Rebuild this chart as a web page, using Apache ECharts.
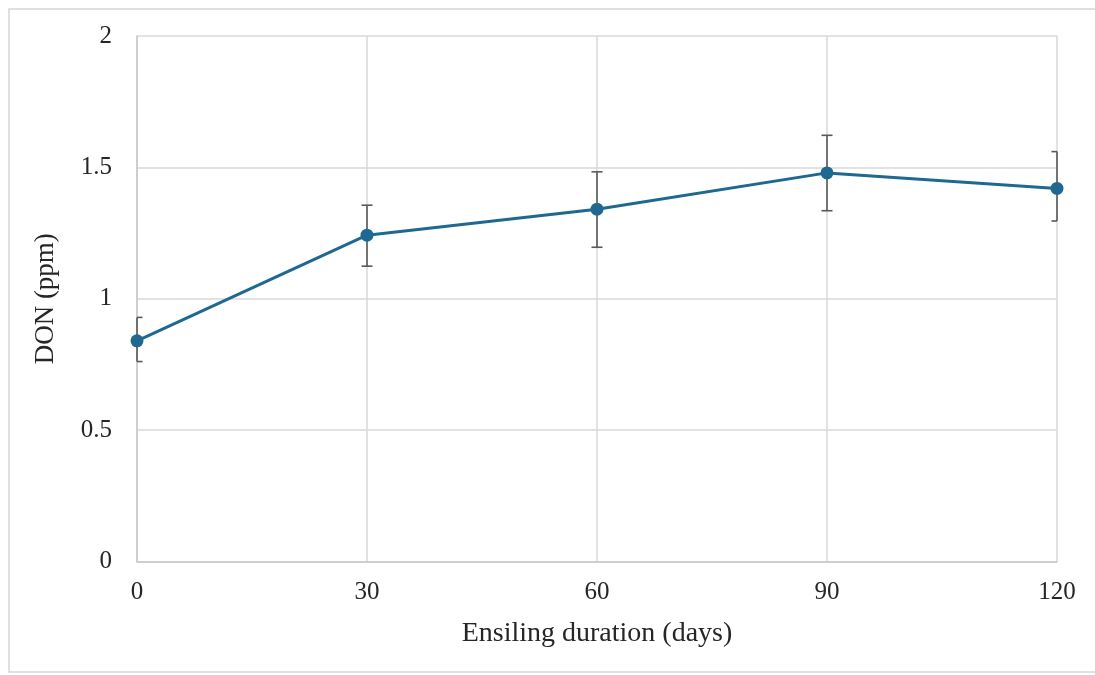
<!DOCTYPE html>
<html>
<head>
<meta charset="utf-8">
<script src="https://cdn.jsdelivr.net/npm/echarts@6/dist/echarts.min.js"></script>
<style>html,body{margin:0;padding:0;background:#fff;}#c{width:1095px;height:675px;}</style>
</head>
<body>
<div id="c"></div>
<script>
const days = [0, 30, 60, 90, 120];
const donMean = [0.84, 1.242, 1.341, 1.479, 1.42];
const donLow = [0.761, 1.124, 1.196, 1.335, 1.296];
const donHigh = [0.929, 1.356, 1.483, 1.622, 1.560];
const xTicks = [0, 30, 60, 90, 120];
const yTicks = [0, 0.5, 1, 1.5, 2];

const font = 'Liberation Serif';
const lineData = days.map((d, i) => [d, donMean[i]]);
const errData = days.map((d, i) => [d, donLow[i], donHigh[i]]);

const chart = echarts.init(document.getElementById('c'), null, {renderer: 'canvas'});
chart.setOption({
  animation: false,
  backgroundColor: '#fff',
  graphic: [{
    type: 'rect', silent: true, z: -10,
    shape: {x: 9, y: 9, width: 1100, height: 663},
    style: {fill: 'none', stroke: '#d6d6d6', lineWidth: 1.5}
  }],
  grid: {left: 137, right: 38, top: 36, bottom: 113.5, containLabel: false},
  xAxis: {
    type: 'value', min: xTicks[0], max: xTicks[xTicks.length - 1], interval: 30,
    name: 'Ensiling duration (days)', nameLocation: 'middle', nameGap: 58,
    nameTextStyle: {fontFamily: font, fontSize: 28, color: '#262626'},
    axisLine: {show: true, lineStyle: {color: '#c8c8c8', width: 1.5}},
    axisTick: {show: false},
    axisLabel: {fontFamily: font, fontSize: 25, color: '#262626', margin: 18},
    splitLine: {show: true, lineStyle: {color: '#d9d9d9', width: 1.5}}
  },
  yAxis: {
    type: 'value', min: yTicks[0], max: yTicks[yTicks.length - 1], interval: 0.5,
    name: 'DON (ppm)', nameLocation: 'middle', nameGap: 78,
    nameTextStyle: {fontFamily: font, fontSize: 27, color: '#262626'},
    axisLine: {show: true, lineStyle: {color: '#c8c8c8', width: 1.5}},
    axisTick: {show: false},
    axisLabel: {fontFamily: font, fontSize: 25, color: '#262626', margin: 25},
    splitLine: {show: true, lineStyle: {color: '#d9d9d9', width: 1.5}}
  },
  series: [
    {
      type: 'custom', z: 3,
      data: errData,
      renderItem: function (params, api) {
        const x = api.value(0);
        const lo = api.coord([x, api.value(1)]);
        const hi = api.coord([x, api.value(2)]);
        const cs = params.coordSys;
        const hw = 5.5;
        const l = Math.max(lo[0] - hw, cs.x);
        const r = Math.min(lo[0] + hw, cs.x + cs.width);
        const st = {stroke: '#595959', lineWidth: 1.6, fill: 'none'};
        return {type: 'group', children: [
          {type: 'line', shape: {x1: lo[0], y1: lo[1], x2: hi[0], y2: hi[1]}, style: st},
          {type: 'line', shape: {x1: l, y1: lo[1], x2: r, y2: lo[1]}, style: st},
          {type: 'line', shape: {x1: l, y1: hi[1], x2: r, y2: hi[1]}, style: st}
        ]};
      }
    },
    {
      type: 'line', z: 4,
      data: lineData,
      symbol: 'circle', symbolSize: 13,
      lineStyle: {color: '#1f6891', width: 3},
      itemStyle: {color: '#1f6891'}
    }
  ]
});
</script>
</body>
</html>
